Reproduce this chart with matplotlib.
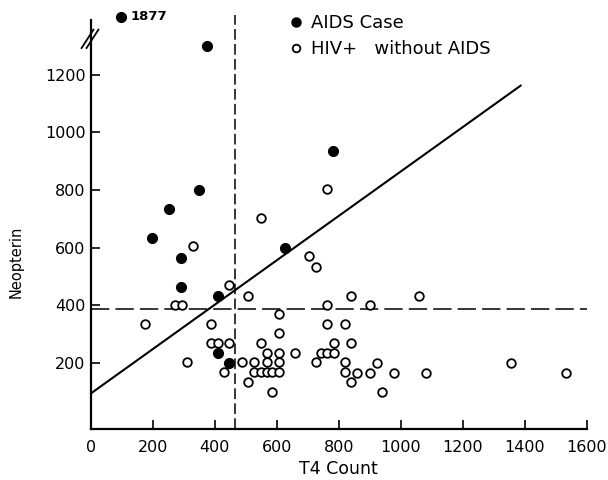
import numpy as np
import matplotlib
matplotlib.use("Agg")
import matplotlib.pyplot as plt
from matplotlib.lines import Line2D

plt.rcParams['font.family'] = ['DejaVu Sans']

# ---- data ----
aids_t4 = [97, 374, 782, 350, 253, 196, 626, 291, 291, 409, 409, 447]
aids_neo = [1877, 1300, 936, 800, 733, 632, 597, 565, 464, 432, 232, 200]

hiv_t4 = [174, 271, 293, 311, 330, 387, 387, 411, 447, 429, 447, 489, 506, 508,
          527, 548, 548, 527, 548, 567, 586, 607, 567, 607, 567, 607, 586, 607,
          607, 660, 705, 725, 725, 743, 763, 785, 763, 763, 763, 785, 821, 821,
          821, 838, 838, 838, 860, 901, 901, 922, 941, 979, 1060, 1081, 1355, 1533]
hiv_neo = [334, 400, 400, 201, 607, 334, 267, 267, 267, 166, 469, 201, 433, 134,
           201, 704, 267, 166, 166, 166, 166, 166, 235, 235, 201, 201, 99, 368,
           302, 235, 571, 534, 201, 235, 235, 235, 803, 400, 334, 267, 334, 201,
           166, 267, 432, 133, 165, 400, 165, 200, 97, 165, 433, 165, 200, 165]

fit_x = [0, 1390]
fit_y = [93, 1165]
t4_cut = 465
neo_cut = 385

xticks = [0, 200, 400, 600, 800, 1000, 1200, 1400, 1600]
yticks = [200, 400, 600, 800, 1000, 1200]

# broken axis: values above break are shown at a fixed height
break_above = 1400
break_shown = 1400

# ---- figure ----
fig = plt.figure(figsize=(6.08, 4.80), dpi=100)
ax = fig.add_axes([91/608, 50.7/480, 495.5/608, 417.6/480])
ax.set_xlim(0, 1600)
ax.set_ylim(-32, 1420)

aids_plot_y = [break_shown if v > break_above else v for v in aids_neo]

h_hiv = ax.scatter(hiv_t4, hiv_neo, s=6.2**2, facecolors='white', edgecolors='black',
                   linewidths=1.3, zorder=3, clip_on=False)
h_aids = ax.scatter(aids_t4, aids_plot_y, s=7.0**2, color='black', zorder=4, clip_on=False)

for t, v, py in zip(aids_t4, aids_neo, aids_plot_y):
    if v > break_above:
        ax.annotate(str(v), (t, py), xytext=(6.5, 1), textcoords='offset points',
                    ha='left', va='center', fontsize=9.5, fontweight='bold')

ax.plot(fit_x, fit_y, color='black', lw=1.5, solid_capstyle='butt', zorder=2)
ax.plot([t4_cut, t4_cut], [-32, 1410], color='black', lw=1.1,
        dashes=(7, 2.8), zorder=1, clip_on=False)
ax.plot([0, 1600], [neo_cut, neo_cut], color='black', lw=1.1,
        dashes=(12, 4), zorder=1)

# spines
for s in ['top', 'right']:
    ax.spines[s].set_visible(False)
ax.spines['left'].set_linewidth(1.6)
ax.spines['bottom'].set_linewidth(1.6)
ax.spines['left'].set_bounds(-32, 1390)
ax.spines['bottom'].set_bounds(0, 1600)

# axis break marks
for dx in (0.0, 0.010):
    ax.plot([-0.019 + dx, 0.005 + dx], [0.913, 0.957], transform=ax.transAxes,
            color='black', lw=1.3, clip_on=False)

ax.set_xticks(xticks)
ax.set_yticks(yticks)
ax.tick_params(axis='both', direction='in', length=6.2, width=1.2, labelsize=11.5)
ax.tick_params(axis='x', pad=8)
ax.tick_params(axis='y', pad=4)

ax.set_xlabel('T4 Count', fontsize=12.5, labelpad=3.5)
ax.set_ylabel('Neopterin', fontsize=10.5)
ax.yaxis.set_label_coords(-0.135, 0.4)

leg_handles = [
    Line2D([], [], marker='o', ls='none', markersize=6.5, markerfacecolor='black',
           markeredgecolor='black'),
    Line2D([], [], marker='o', ls='none', markersize=5.5, markerfacecolor='white',
           markeredgecolor='black', markeredgewidth=1.3),
]
ax.legend(leg_handles, ['AIDS Case', 'HIV+   without AIDS'], loc='upper left',
          bbox_to_anchor=(291/608, 1 - 14/480), bbox_transform=fig.transFigure,
          frameon=False, fontsize=13, handlelength=0.6, handletextpad=0.5,
          labelspacing=0.45, borderpad=0, borderaxespad=0)

fig.savefig('out.png', dpi=100)
